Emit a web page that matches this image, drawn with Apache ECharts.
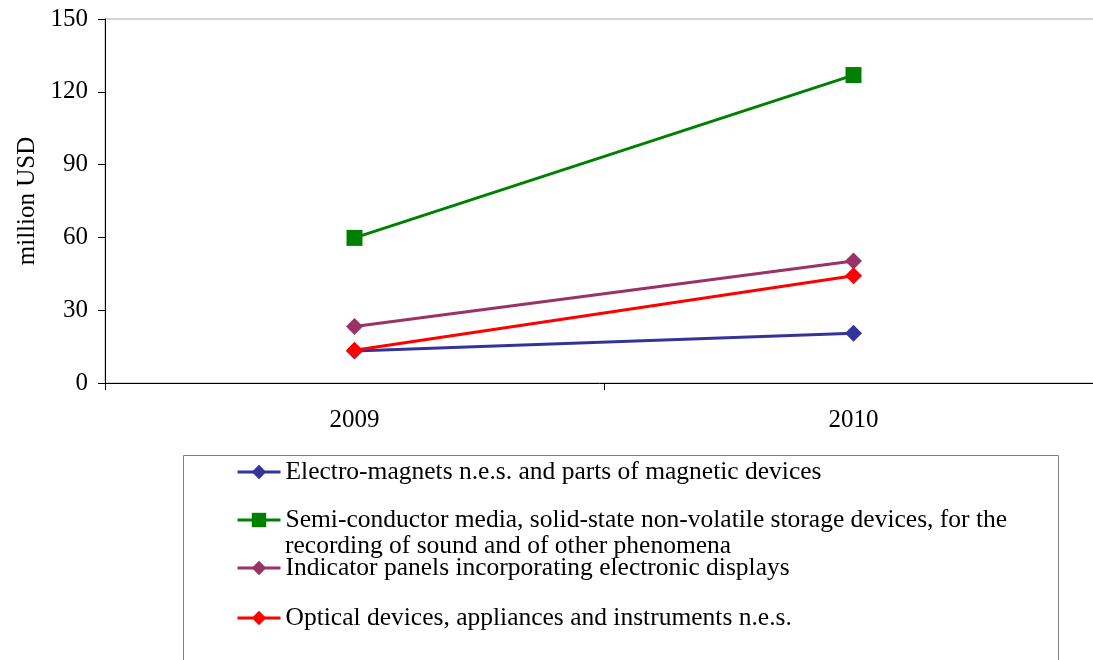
<!DOCTYPE html>
<html>
<head>
<meta charset="utf-8">
<style>
  html, body { margin: 0; padding: 0; background: #ffffff; }
  #chart { width: 1093px; height: 660px; }
</style>
<script src="https://cdn.jsdelivr.net/npm/echarts@6/dist/echarts.min.js"></script>
</head>
<body>
<div id="chart"></div>
<script>
// Years on the category axis
const years = ['2009', '2010'];

// Import values, million USD
const electroMagnets = [13.2, 20.5];
const semiConductorMedia = [59.8, 126.9];
const indicatorPanels = [23.3, 50.3];
const opticalDevices = [13.5, 44.2];

const seriesNames = [
  'Electro-magnets n.e.s. and parts of magnetic devices',
  'Semi-conductor media, solid-state non-volatile storage devices, for the recording of sound and of other phenomena',
  'Indicator panels incorporating electronic displays',
  'Optical devices, appliances and instruments n.e.s.'
];
// the long name is set on two lines in the key
const wrappedNameLines = [
  'Semi-conductor media, solid-state non-volatile storage devices, for the',
  'recording of sound and of other phenomena'
];
const seriesValues = [electroMagnets, semiConductorMedia, indicatorPanels, opticalDevices];
const seriesColors = ['#333399', '#008000', '#993366', '#ff0000'];
const seriesSymbols = ['diamond', 'rect', 'diamond', 'diamond'];

const yTicks = { min: 0, max: 150, interval: 30 };
const axisName = 'million USD';

const FONT = '"Liberation Serif", "DejaVu Serif", serif';
const FS = 25;
const LEGEND_FS = 25.5;

const series = seriesNames.map((name, i) => ({
  name: name,
  type: 'line',
  data: seriesValues[i],
  symbol: seriesSymbols[i],
  symbolSize: seriesSymbols[i] === 'rect' ? 16 : 17,
  lineStyle: { color: seriesColors[i], width: 3 },
  itemStyle: { color: seriesColors[i] },
  z: 2 + i,
  animation: false
}));

// one legend block per row so the rows keep a fixed pitch
const rowTops = [459, 507, 555, 605];
const legends = seriesNames.map((name, i) => ({
  data: [{ name: name }],
  left: 236,
  top: rowTops[i],
  padding: 0,
  orient: 'vertical',
  itemWidth: 43,
  itemHeight: 18,
  itemGap: 0,
  selectedMode: false,
  lineStyle: { width: 3 },
  formatter: (n) => n === seriesNames[1] ? wrappedNameLines[0] : n,
  textStyle: { fontFamily: FONT, fontSize: LEGEND_FS, color: '#000', lineHeight: 26 }
}));

const chart = echarts.init(document.getElementById('chart'), null, { renderer: 'canvas' });
chart.setOption({
  backgroundColor: '#ffffff',
  animation: false,
  grid: {
    left: 105, top: 19, right: -10, bottom: 277,
    show: true, borderColor: '#a6a6a6', borderWidth: 1,
    containLabel: false,
    outerBoundsMode: 'none'
  },
  legend: legends,
  graphic: [{
    type: 'rect',
    shape: { x: 183.5, y: 455.5, width: 875, height: 220 },
    style: { fill: 'none', stroke: '#7f7f7f', lineWidth: 1 },
    z: 0
  }, {
    type: 'text',
    x: 285,
    y: 546,
    style: {
      text: wrappedNameLines[1],
      font: LEGEND_FS + 'px ' + FONT,
      fill: '#000',
      verticalAlign: 'middle',
      align: 'left'
    },
    z: 10
  }],
  xAxis: {
    type: 'category',
    data: years,
    boundaryGap: true,
    axisLine: { lineStyle: { color: '#000', width: 1 } },
    axisTick: { show: true, length: 7, lineStyle: { color: '#000' } },
    axisLabel: { fontFamily: FONT, fontSize: FS, color: '#000', margin: 25 },
    splitLine: { show: false }
  },
  yAxis: {
    type: 'value',
    min: yTicks.min,
    max: yTicks.max,
    interval: yTicks.interval,
    name: axisName,
    nameLocation: 'middle',
    nameRotate: 90,
    nameGap: 65,
    nameTextStyle: { fontFamily: FONT, fontSize: FS, color: '#000' },
    axisLine: { show: true, lineStyle: { color: '#000', width: 1 } },
    axisTick: { show: true, length: 7, lineStyle: { color: '#000' } },
    axisLabel: { fontFamily: FONT, fontSize: FS, color: '#000', margin: 17 },
    splitLine: { show: false }
  },
  series: series
});
</script>
</body>
</html>
